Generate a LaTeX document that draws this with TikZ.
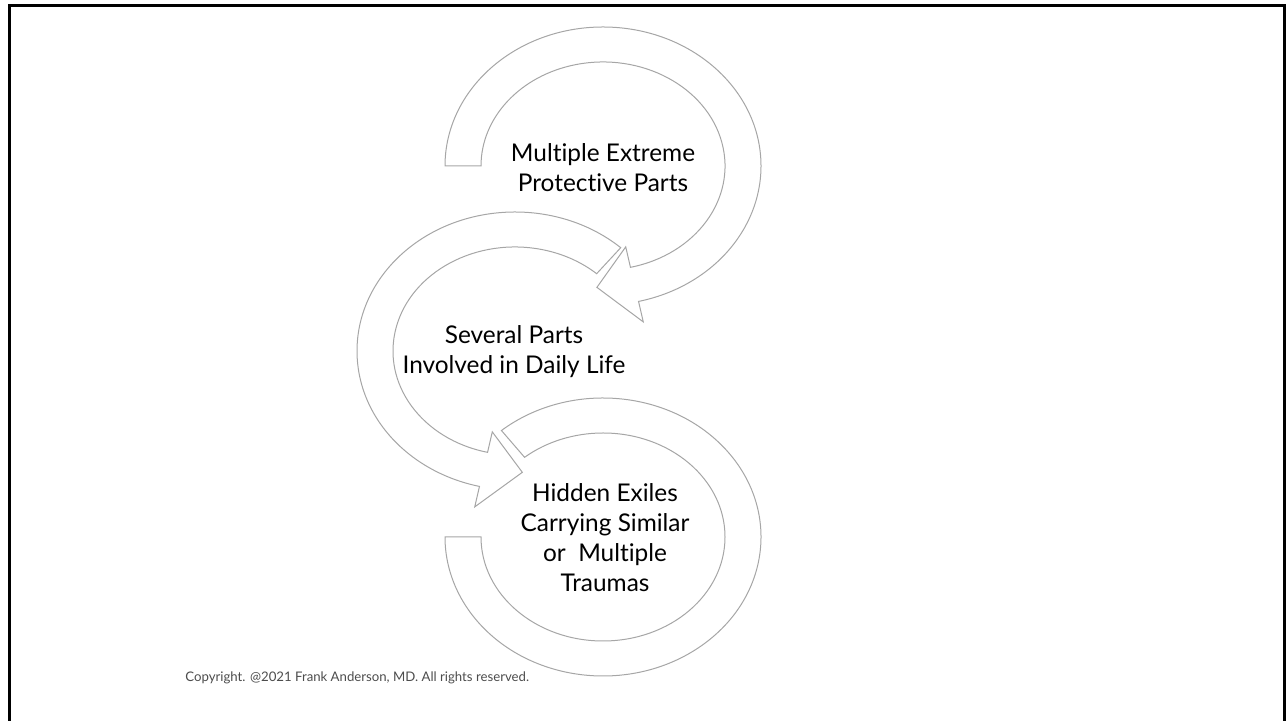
\documentclass[tikz,border=0pt]{standalone}
\usepackage{fontspec}
\setmainfont[Ligatures={NoCommon,NoRare}]{Lato}
\usetikzlibrary{calc}

% ring arrow: centre, tail angle, head base angle, tip angle
\newcommand\ringarrow[4]{%
  \draw[arrowring] ($(#1)+(#2:158 and 139)$)
    arc[start angle=#2, end angle=#3, x radius=158, y radius=139]
    -- ($(#1)+(#3:179 and 160)$) -- ($(#1)+(#4:140 and 121.5)$)
    -- ($(#1)+(#3:101 and 83)$) -- ($(#1)+(#3:122 and 104)$)
    arc[start angle=#3, end angle=#2, x radius=122, y radius=104] -- cycle;}

\begin{document}
\begin{tikzpicture}[x=0.5pt, y=0.5pt,
    arrowring/.style={draw=black!35, fill=white, line width=0.5pt},
    parttext/.style={align=center, inner sep=0pt, font=\fontsize{12.2}{15}\selectfont}]
  \useasboundingbox (0,0) rectangle (1288,721);

  % frame, open at the bottom
  \draw[line width=1.5pt] (9,0) -- (9,715.5) -- (1284,715.5) -- (1284,0);

  % ring centres
  \coordinate (top) at (603,555);
  \coordinate (mid) at (515,370);
  \coordinate (bot) at (603,184);

  \ringarrow{top}{180}{-77}{-92.5}
  \ringarrow{mid}{48}{257}{273}
  % bottom ring, no head
  \draw[arrowring] ($(bot)+(130:158 and 139)$)
    arc[start angle=130, end angle=-180, x radius=158, y radius=139]
    -- ($(bot)+(180:122 and 104)$)
    arc[start angle=-180, end angle=130, x radius=122, y radius=104] -- cycle;

  \node[parttext] (protect) at (603,553) {Multiple Extreme\\Protective Parts};
  \node[parttext] (daily) at (514,369) {Several Parts\\Involved in Daily Life};
  \node[parttext] (exiles) at (605,183) {Hidden Exiles\\Carrying Similar\\or\ \ Multiple\\Traumas};

  \node[anchor=west, inner sep=0pt, text=black!70, font=\fontsize{6.6}{7}\selectfont]
    (copyright) at (185,43) {Copyright. @2021 Frank Anderson, MD. All rights reserved.};
\end{tikzpicture}
\end{document}
